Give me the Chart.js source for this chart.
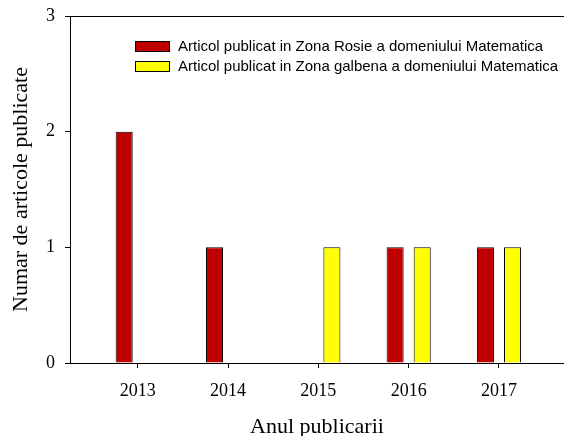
<!DOCTYPE html>
<html>
<head>
<meta charset="utf-8">
<script src="https://cdn.jsdelivr.net/npm/chart.js@4"></script>
<style>
  html, body { margin: 0; padding: 0; background: #fff; overflow: hidden; }
  #wrap { width: 564px; height: 436px; }
</style>
</head>
<body>
<div id="wrap"><canvas id="chart"></canvas></div>
<script>
// data
const years = [2013, 2014, 2015, 2016, 2017];
const zonaRosie = [2, 1, null, 1, 1];
const zonaGalbena = [null, null, 1, 1, 1];
const yTicks = [0, 1, 2, 3];
const labelRosie = 'Articol publicat in Zona Rosie a domeniului Matematica';
const labelGalbena = 'Articol publicat in Zona galbena a domeniului Matematica';

const serif = "'Liberation Serif', 'Times New Roman', serif";
const sans = "'Liberation Sans', Arial, sans-serif";

// top frame line + legend inside the plot
const framePlugin = {
    id: 'frame',
    afterDraw(chart) {
        const ctx = chart.ctx;
        const a = chart.chartArea;
        ctx.save();
        ctx.strokeStyle = '#000';
        ctx.lineWidth = 1;
        ctx.beginPath();
        ctx.moveTo(a.left, a.top + 0.5);
        ctx.lineTo(a.right, a.top + 0.5);
        ctx.stroke();

        // legend
        ctx.font = '15px ' + sans;
        ctx.textBaseline = 'middle';
        chart.data.datasets.forEach((ds, i) => {
            const bx = a.left + 65;
            const by = a.top + 25 + i * 20;
            ctx.fillStyle = ds.backgroundColor;
            ctx.fillRect(bx, by, 35, 11);
            ctx.strokeStyle = '#000';
            ctx.strokeRect(bx + 0.5, by + 0.5, 34, 10);
            ctx.fillStyle = '#000';
            ctx.fillText(ds.label, bx + 43, by + 6);
        });
        ctx.restore();
    }
};

const ctx = document.getElementById('chart').getContext('2d');
new Chart(ctx, {
    type: 'bar',
    data: {
        datasets: [
            {
                label: labelRosie,
                data: years.map((x, i) => ({ x: x, y: zonaRosie[i] })),
                backgroundColor: '#C00000',
                borderColor: '#000',
                borderWidth: 1
            },
            {
                label: labelGalbena,
                data: years.map((x, i) => ({ x: x, y: zonaGalbena[i] })),
                backgroundColor: '#FFFF00',
                borderColor: '#000',
                borderWidth: 1
            }
        ]
    },
    options: {
        responsive: true,
        maintainAspectRatio: false,
        animation: false,
        categoryPercentage: 0.6,
        barPercentage: 0.63,
        layout: { padding: { top: 16, right: 0, left: 0, bottom: 0 } },
        plugins: {
            legend: { display: false },
            tooltip: { enabled: false }
        },
        scales: {
            x: {
                type: 'linear',
                offset: false,
                min: 2012.25,
                max: 2017.72,
                afterBuildTicks: scale => { scale.ticks = years.map(v => ({ value: v })); },
                afterFit: scale => { scale.height = 73; },
                grid: { offset: false, drawOnChartArea: false, tickLength: 5, color: '#000' },
                border: { display: true, color: '#000', width: 1 },
                ticks: {
                    color: '#000',
                    padding: 12,
                    font: { family: serif, size: 18 },
                    callback: v => String(v)
                },
                title: {
                    display: true,
                    text: 'Anul publicarii',
                    color: '#000',
                    font: { family: serif, size: 22, lineHeight: 0.8 },
                    padding: 0
                }
            },
            y: {
                min: 0,
                max: 3,
                afterBuildTicks: scale => { scale.ticks = yTicks.map(v => ({ value: v })); },
                afterFit: scale => {
                    scale.width = 70;
                    scale.paddingTop = 0;
                    scale.paddingBottom = 0;
                },
                grid: { drawOnChartArea: false, tickLength: 5, color: '#000' },
                border: { display: true, color: '#000', width: 1 },
                ticks: {
                    color: '#000',
                    padding: 10,
                    font: { family: serif, size: 18 }
                },
                title: {
                    display: true,
                    text: 'Numar de articole publicate',
                    color: '#000',
                    font: { family: serif, size: 22 },
                    padding: { top: 8, bottom: 0 }
                }
            }
        }
    },
    plugins: [framePlugin]
});
</script>
</body>
</html>
